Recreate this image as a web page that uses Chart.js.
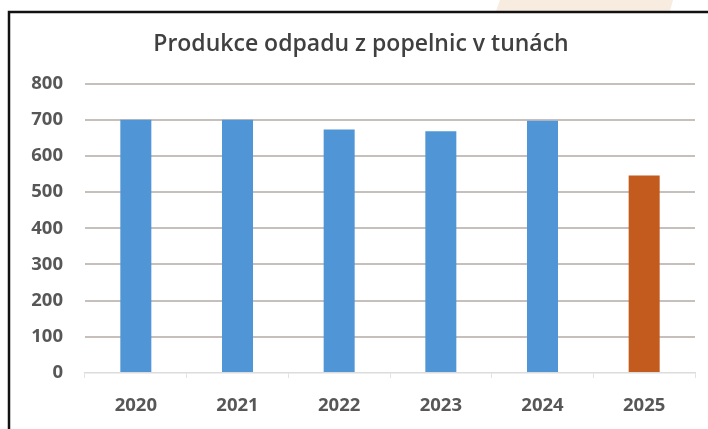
<!DOCTYPE html>
<html>
<head>
<meta charset="utf-8">
<script src="https://cdn.jsdelivr.net/npm/chart.js@4/dist/chart.umd.min.js"></script>
<style>
  html, body { margin: 0; padding: 0; background: #fff; }
  #wrap { width: 708px; height: 429px; }
</style>
</head>
<body>
<div id="wrap"><canvas id="myChart" width="708" height="429"></canvas></div>
<script>
// Roky a produkce odpadu (tuny)
const roky = ['2020', '2021', '2022', '2023', '2024', '2025'];
const tuny = [700, 700, 673, 668, 697, 546];
const barvy = ['#5096d6', '#5096d6', '#5096d6', '#5096d6', '#5096d6', '#c45b1e'];
const titulek = 'Produkce odpadu z popelnic v tunách';

// pozadí, rámeček a béžový pruh nahoře
const ramecek = {
    id: 'ramecek',
    beforeDraw(chart) {
        const c = chart.ctx;
        c.save();
        c.fillStyle = '#ffffff';
        c.fillRect(0, 0, chart.width, chart.height);
        c.fillStyle = '#f8ece0';
        c.beginPath();
        c.moveTo(500, 0);
        c.lineTo(673, 0);
        c.lineTo(670, 11);
        c.lineTo(496, 11);
        c.closePath();
        c.fill();
        c.strokeStyle = '#111111';
        c.lineWidth = 2.5;
        c.beginPath();
        c.moveTo(9, chart.height);
        c.lineTo(9, 12);
        c.lineTo(chart.width, 12);
        c.stroke();
        c.restore();
    }
};

const ctx = document.getElementById('myChart').getContext('2d');
new Chart(ctx, {
    type: 'bar',
    data: {
        labels: roky,
        datasets: [{
            data: tuny,
            backgroundColor: barvy,
            borderWidth: 0,
            categoryPercentage: 1,
            barPercentage: 0.305
        }]
    },
    options: {
        responsive: false,
        animation: false,
        layout: { padding: { left: 27, right: 13, top: 0, bottom: 0 } },
        scales: {
            y: {
                min: 0,
                max: 800,
                afterFit(scale) { scale.width = 58; },
                ticks: {
                    stepSize: 100,
                    padding: 22,
                    color: '#575757',
                    font: { family: 'Open Sans', size: 18.5, weight: 'bold' }
                },
                grid: {
                    drawTicks: false,
                    lineWidth: 2,
                    color: c => c.tick && c.tick.value === 0 ? 'rgba(0,0,0,0)' : '#c7bfbb'
                },
                border: { display: false }
            },
            x: {
                afterFit(scale) { scale.height = 56; },
                ticks: {
                    padding: 17,
                    color: '#575757',
                    font: { family: 'Open Sans', size: 18.5, weight: 'bold' }
                },
                grid: {
                    offset: true,
                    drawOnChartArea: false,
                    tickLength: 5,
                    color: '#e2e2e2'
                },
                border: { color: '#dcdcdc', width: 1.5 }
            }
        },
        plugins: {
            legend: { display: false },
            tooltip: { enabled: false },
            title: {
                display: true,
                text: titulek,
                color: '#404040',
                font: { family: 'Open Sans', size: 23, weight: '600', lineHeight: 1.2 },
                padding: { top: 31, bottom: 25 }
            }
        }
    },
    plugins: [ramecek]
});
</script>
</body>
</html>
